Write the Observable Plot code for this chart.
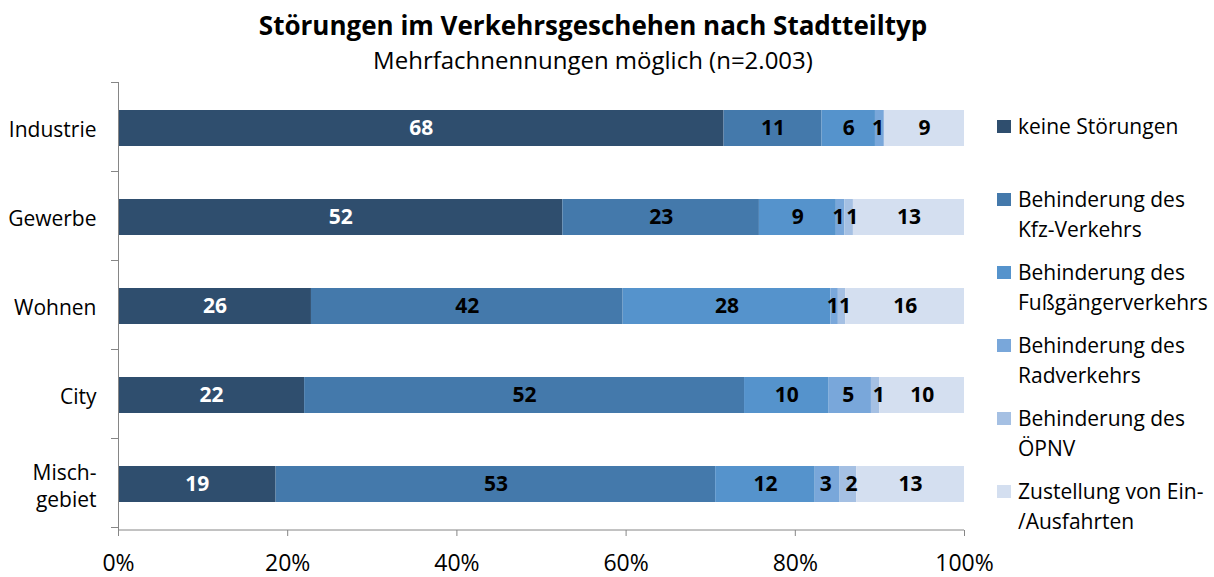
<!DOCTYPE html>
<html>
<head>
<meta charset="utf-8">
<script src="https://cdn.jsdelivr.net/npm/d3@7"></script>
<script src="https://cdn.jsdelivr.net/npm/@observablehq/plot@0.6"></script>
<style>
  body { margin: 0; background: #fff; font-family: "Open Sans", Lato, sans-serif; }
  #wrap { position: relative; width: 1214px; height: 577px; overflow: hidden; background: #fff; }
  #title { position: absolute; left: 0; width: 1186px; top: 12px; line-height: 1; text-align: center; font-weight: bold; font-size: 26px; color: #000; }
  #subtitle { position: absolute; left: 0; width: 1186px; top: 48px; line-height: 1; text-align: center; font-size: 24px; color: #000; }
  #chart { position: absolute; left: 0; top: 0; }
  #legend { position: absolute; left: 997px; top: 111px; }
  .item { position: relative; height: 73.1px; }
  .sw { position: absolute; left: 0; top: 9px; width: 14px; height: 13px; }
  .lbl { position: absolute; left: 21px; top: 0; font-size: 21px; line-height: 30px; white-space: pre; color: #000; }
</style>
</head>
<body>
<div id="wrap">
  <div id="chart"></div>
  <div id="title"></div>
  <div id="subtitle"></div>
  <div id="legend"></div>
</div>
<script>
const titleText = "Störungen im Verkehrsgeschehen nach Stadtteiltyp";
const subtitleText = "Mehrfachnennungen möglich (n=2.003)";

const categories = ["Industrie", "Gewerbe", "Wohnen", "City", "Misch-\ngebiet"];
const series = [
  "keine Störungen",
  "Behinderung des Kfz-Verkehrs",
  "Behinderung des Fußgängerverkehrs",
  "Behinderung des Radverkehrs",
  "Behinderung des ÖPNV",
  "Zustellung von Ein-/Ausfahrten"
];
const legendLabels = [
  "keine Störungen",
  "Behinderung des\nKfz-Verkehrs",
  "Behinderung des\nFußgängerverkehrs",
  "Behinderung des\nRadverkehrs",
  "Behinderung des\nÖPNV",
  "Zustellung von Ein-\n/Ausfahrten"
];
const colors = ["#2f4e6e", "#4479ab", "#5593cc", "#79a7da", "#a5c0e3", "#d4dff0"];

const keineStoerungen = [68, 52, 26, 22, 19];
const kfzVerkehr      = [11, 23, 42, 52, 53];
const fussgaenger     = [6, 9, 28, 10, 12];
const radverkehr      = [1, 1, 1, 5, 3];
const oepnv           = [0, 1, 1, 1, 2];
const zustellung      = [9, 13, 16, 10, 13];

const xTicks = [0, 0.2, 0.4, 0.6, 0.8, 1];

const seriesValues = [keineStoerungen, kfzVerkehr, fussgaenger, radverkehr, oepnv, zustellung];
const data = [];
categories.forEach((cat, i) => {
  series.forEach((s, j) => {
    data.push({cat, series: s, value: seriesValues[j][i]});
  });
});

document.getElementById("title").textContent = titleText;
document.getElementById("subtitle").textContent = subtitleText;

const stackOpts = {x: "value", y: "cat", z: "series", order: series, offset: "normalize"};
const labelStyle = {fontWeight: "bold", fontSize: 21};

const plot = Plot.plot({
  width: 1214,
  height: 577,
  marginTop: 82,
  marginBottom: 47,
  marginLeft: 118,
  marginRight: 250,
  style: {fontFamily: "'Open Sans', Lato, sans-serif", background: "transparent"},
  x: {domain: [0, 1]},
  y: {domain: categories, paddingInner: 0.6, paddingOuter: 0.3},
  color: {domain: series, range: colors},
  marks: [
    Plot.barX(data, Plot.stackX({...stackOpts, fill: "series"})),
    Plot.text(data, Plot.stackX({...stackOpts, ...labelStyle, fill: "white",
      text: d => d.series === series[0] && d.value > 0 ? String(d.value) : null})),
    Plot.text(data, Plot.stackX({...stackOpts, ...labelStyle, fill: "black",
      text: d => d.series !== series[0] && d.series !== series[3] && d.series !== series[4] && d.value > 0 ? String(d.value) : null})),
    Plot.text(data, Plot.stackX({...stackOpts, ...labelStyle, fill: "black", dx: -2,
      text: d => d.series === series[3] && d.value > 0 ? String(d.value) : null})),
    Plot.text(data, Plot.stackX({...stackOpts, ...labelStyle, fill: "black", dx: 3,
      text: d => d.series === series[4] && d.value > 0 ? String(d.value) : null})),
    Plot.ruleX([0], {stroke: "#868686"}),
    Plot.axisX({ticks: xTicks, tickFormat: d => Math.round(d * 100) + "%", tickSize: 6,
      tickPadding: 18, fontSize: 23, stroke: "#868686", fill: "black", label: null}),
    Plot.axisY({tickSize: 0, tickPadding: 22, fontSize: 21, fill: "black", label: null, lineHeight: 1.3})
  ]
});

// category boundary ticks and x baseline, positioned from the plot's own scales
const ys = plot.scale("y");
const xs = plot.scale("x");
const svg = d3.select(plot);
const g = svg.append("g").attr("stroke", "#868686").attr("stroke-width", 1);
const r0 = ys.range[0];
for (let i = 0; i <= categories.length; i++) {
  const yy = Math.round(r0 + i * ys.step) + 0.5;
  g.append("line").attr("x1", xs.apply(0) - 7).attr("x2", xs.apply(0)).attr("y1", yy).attr("y2", yy);
}
const yb = ys.range[1];
g.append("line").attr("x1", xs.apply(0)).attr("x2", xs.apply(1)).attr("y1", yb).attr("y2", yb);

document.getElementById("chart").appendChild(plot);

const legend = document.getElementById("legend");
legendLabels.forEach((l, i) => {
  const item = document.createElement("div");
  item.className = "item";
  const sw = document.createElement("div");
  sw.className = "sw";
  sw.style.background = colors[i];
  const lb = document.createElement("div");
  lb.className = "lbl";
  lb.textContent = l;
  item.appendChild(sw);
  item.appendChild(lb);
  legend.appendChild(item);
});
</script>
</body>
</html>
